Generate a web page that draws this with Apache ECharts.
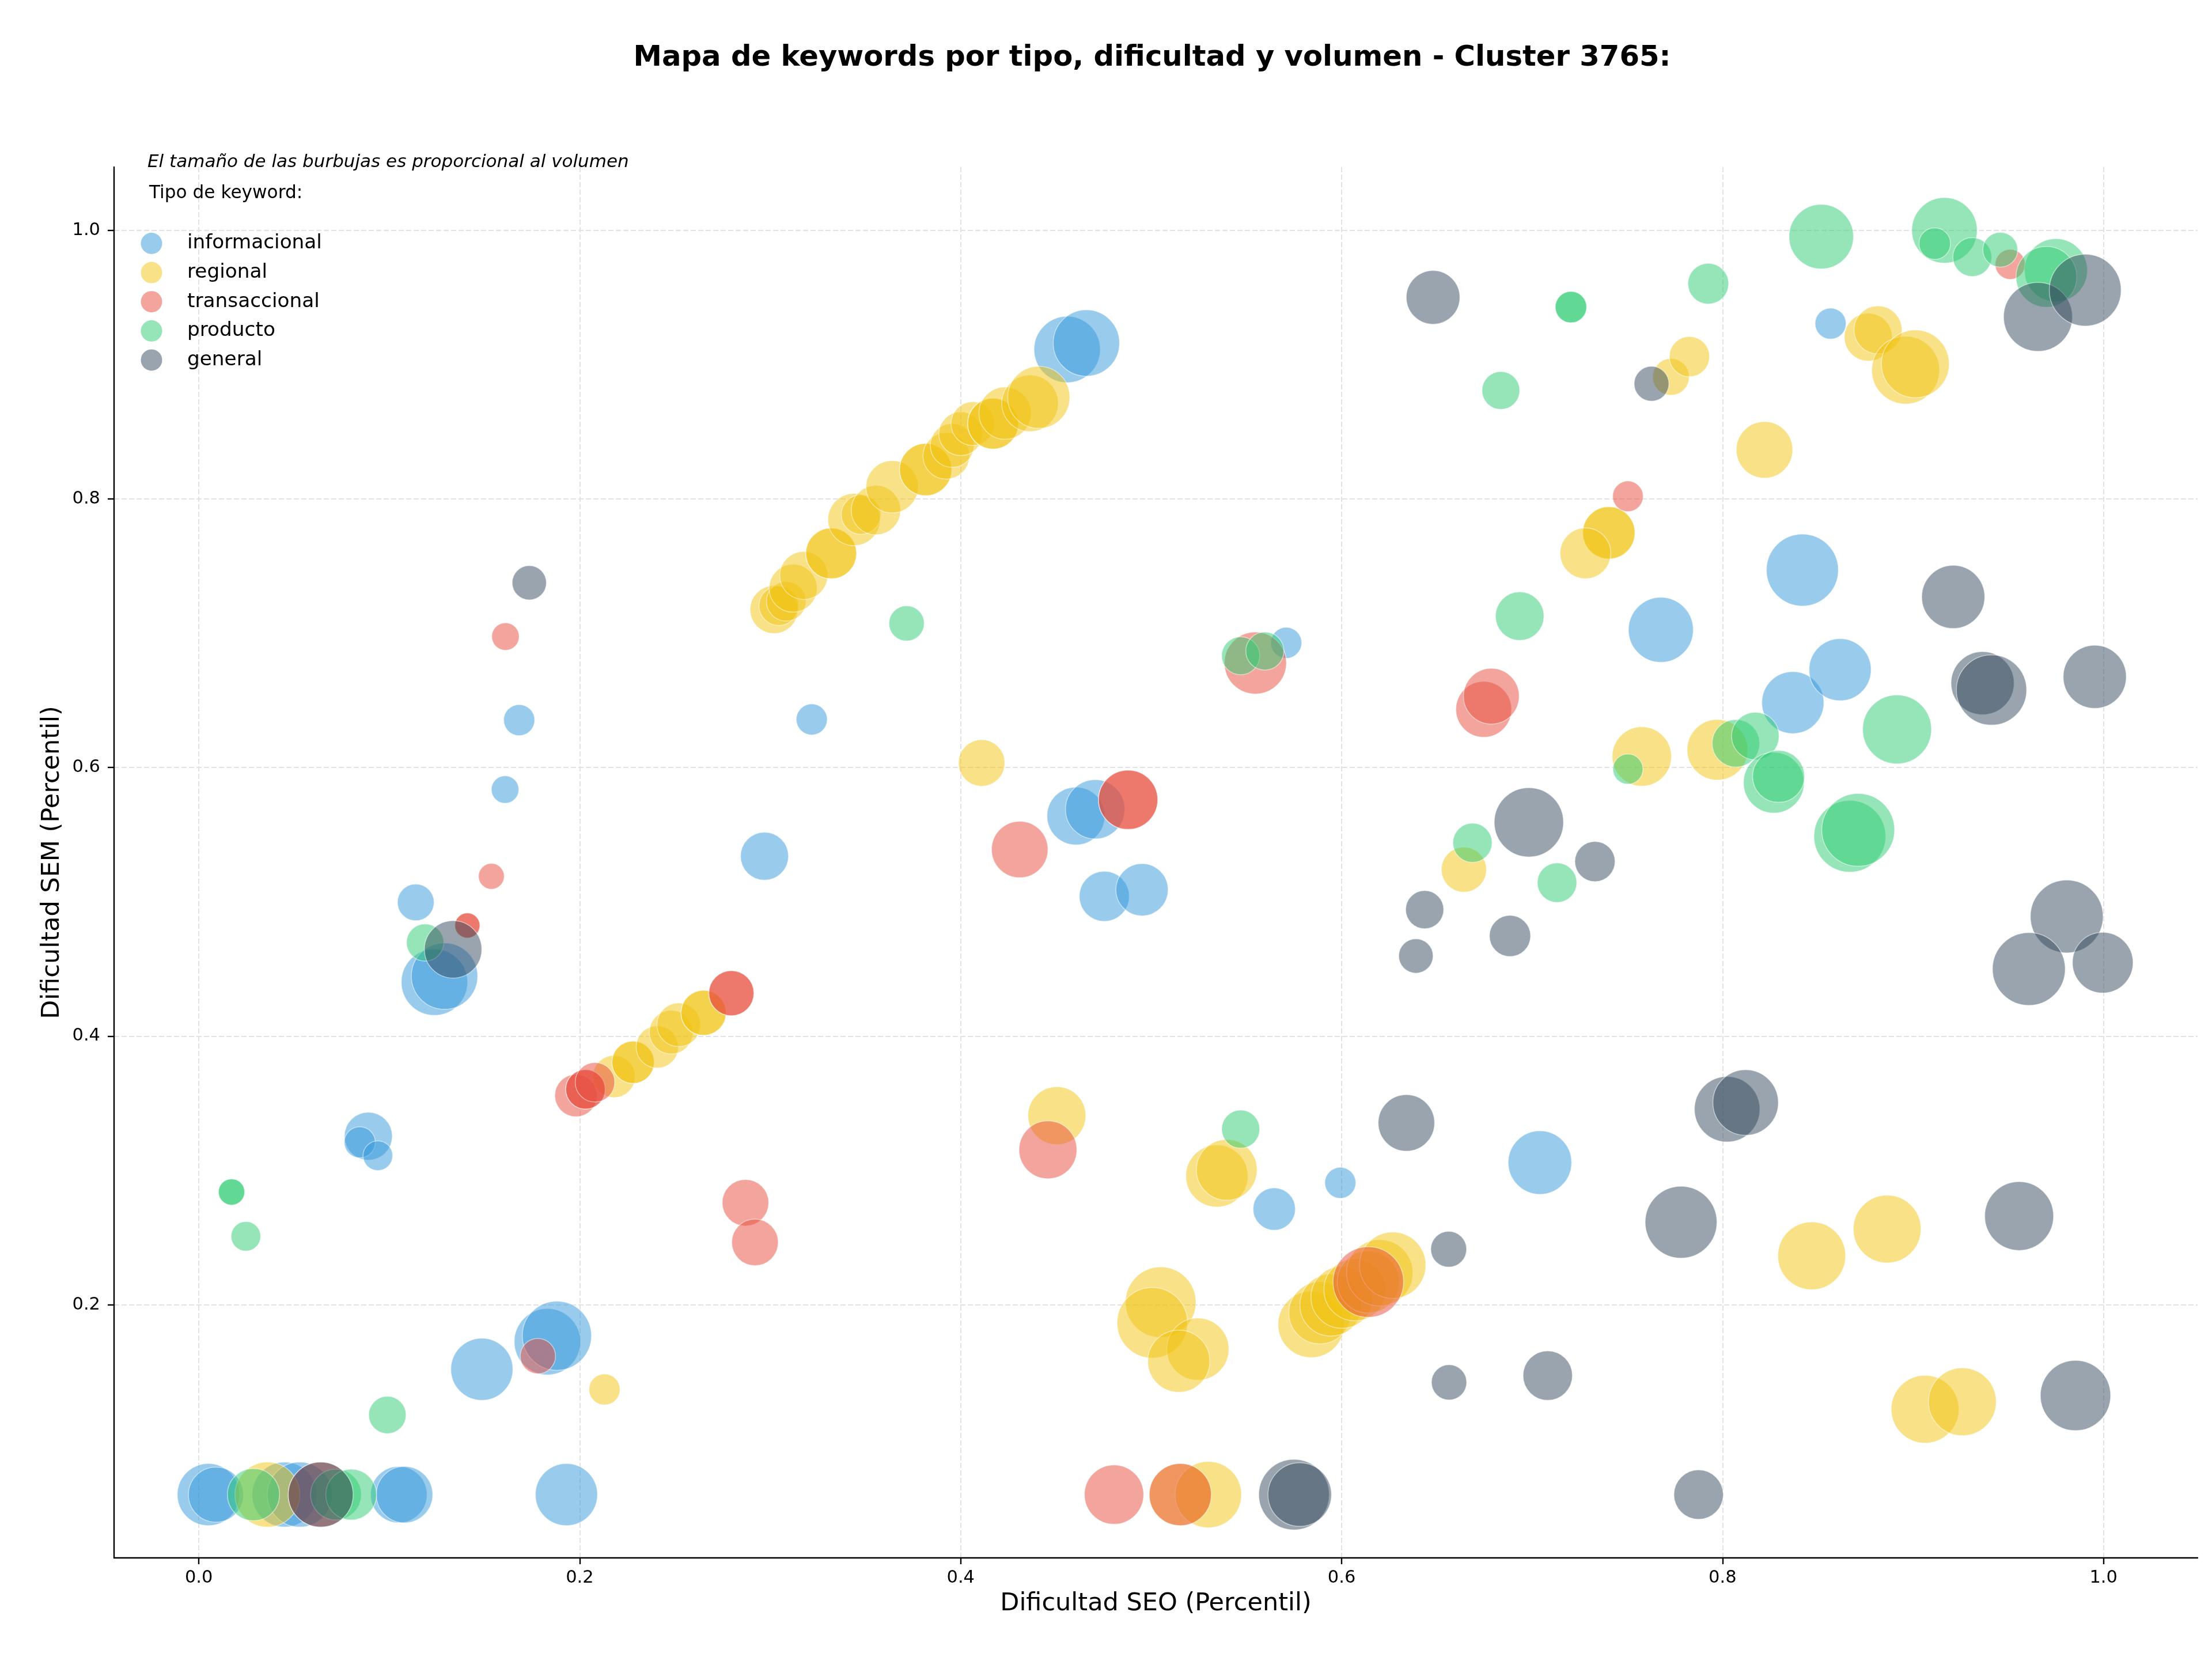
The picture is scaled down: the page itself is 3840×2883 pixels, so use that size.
<!DOCTYPE html>
<html>
<head>
<meta charset="utf-8">
<script src="https://cdn.jsdelivr.net/npm/echarts@6/dist/echarts.min.js"></script>
<style>
  html, body { margin: 0; padding: 0; background: #fff; }
  #chart { width: 3840px; height: 2883px; }
</style>
</head>
<body>
<div id="chart"></div>
<script>
// [dificultad SEO, dificultad SEM, volumen]
const informacional = [
  [0.005, 0.0587, 1936], [0.009, 0.0587, 1521], [0.045, 0.0587, 2116], [0.053, 0.0587, 2116],
  [0.105, 0.0587, 1600], [0.108, 0.0587, 1600], [0.193, 0.0587, 1936],
  [0.089, 0.3255, 1156], [0.0845, 0.321, 484], [0.094, 0.311, 441], [0.1486, 0.152, 1936],
  [0.183, 0.1725, 2209], [0.188, 0.177, 2401], [0.297, 0.534, 1156], [0.1682, 0.6353, 484],
  [0.1608, 0.5836, 380], [0.1139, 0.4996, 676], [0.1237, 0.4402, 2209], [0.129, 0.4447, 2209],
  [0.4559, 0.9112, 2209], [0.466, 0.916, 2209], [0.3218, 0.6358, 484], [0.4605, 0.5639, 1681],
  [0.4706, 0.5689, 1764], [0.4754, 0.5041, 1260], [0.4952, 0.509, 1369], [0.5709, 0.6928, 484],
  [0.5646, 0.2713, 900], [0.5993, 0.2908, 484], [0.8567, 0.9305, 484], [0.7676, 0.7025, 2116],
  [0.8419, 0.747, 2601], [0.8369, 0.6483, 1936], [0.8617, 0.6728, 1936], [0.7041, 0.3059, 2025]
];
const regional = [
  [0.036, 0.0587, 2116], [0.5153, 0.0587, 1936], [0.53, 0.0587, 2209], [0.213, 0.137, 484],
  [0.218, 0.370, 900], [0.228, 0.3806, 900], [0.228, 0.3806, 900], [0.2407, 0.392, 900],
  [0.248, 0.403, 961], [0.252, 0.4085, 961], [0.265, 0.4174, 1024], [0.265, 0.4174, 1024],
  [0.302, 0.7176, 1156], [0.3045, 0.7205, 784], [0.3084, 0.7237, 784], [0.312, 0.7335, 1156],
  [0.3176, 0.743, 1156], [0.332, 0.7594, 1296], [0.332, 0.7594, 1296], [0.344, 0.7846, 1369],
  [0.3477, 0.7883, 784], [0.3555, 0.7916, 1225], [0.364, 0.809, 1369], [0.3816, 0.8218, 1369],
  [0.3816, 0.8218, 1369], [0.3924, 0.832, 1089], [0.3955, 0.8398, 961], [0.4, 0.8485, 961],
  [0.4064, 0.856, 961], [0.417, 0.856, 1296], [0.417, 0.856, 1296], [0.4233, 0.8638, 1369],
  [0.4364, 0.8711, 1600], [0.441, 0.8756, 1936], [0.411, 0.6034, 1089], [0.4505, 0.3408, 1681],
  [0.5345, 0.2959, 1936], [0.5397, 0.3005, 1849], [0.505, 0.2019, 2500], [0.5006, 0.1866, 2500],
  [0.5245, 0.167, 1936], [0.5145, 0.158, 1936], [0.584, 0.1854, 2209], [0.5886, 0.194, 1936],
  [0.5944, 0.1998, 1936], [0.6002, 0.2056, 1936], [0.607, 0.2112, 1936], [0.614, 0.217, 1936],
  [0.62, 0.2238, 2209], [0.6268, 0.2295, 2209], [0.6642, 0.524, 1024], [0.7729, 0.8908, 676],
  [0.7826, 0.9059, 812], [0.822, 0.8365, 1600], [0.8765, 0.9204, 1156], [0.8816, 0.9258, 1156],
  [0.8961, 0.8958, 2304], [0.9012, 0.9005, 2304], [0.7403, 0.7747, 1369], [0.7403, 0.7747, 1369],
  [0.728, 0.7595, 1296], [0.7576, 0.6082, 1764], [0.7973, 0.6132, 1849], [0.8468, 0.2365, 2304],
  [0.8864, 0.2564, 2304], [0.9063, 0.1223, 2304], [0.9259, 0.1278, 2304]
];
const transaccional = [
  [0.064, 0.0587, 2116], [0.178, 0.1618, 625], [0.287, 0.276, 1089], [0.292, 0.2465, 1089],
  [0.198, 0.3558, 900], [0.203, 0.3604, 784], [0.203, 0.3604, 784], [0.208, 0.3657, 784],
  [0.2796, 0.432, 1024], [0.2796, 0.432, 1024], [0.161, 0.6975, 380], [0.1536, 0.519, 335],
  [0.141, 0.4824, 317], [0.141, 0.4824, 317], [0.431, 0.539, 1600], [0.4879, 0.576, 1764],
  [0.4879, 0.576, 1764], [0.5547, 0.6778, 1936], [0.4458, 0.3154, 1681], [0.4805, 0.0587, 1764],
  [0.5153, 0.0587, 1936], [0.614, 0.217, 2500], [0.7503, 0.8019, 471], [0.951, 0.9746, 454],
  [0.6746, 0.6433, 1560], [0.6786, 0.6531, 1560]
];
const producto = [
  [0.0287, 0.0587, 1369], [0.072, 0.0587, 1296], [0.08, 0.0587, 1296], [0.0172, 0.284, 346],
  [0.0172, 0.284, 346], [0.0247, 0.251, 441], [0.099, 0.118, 702], [0.1188, 0.4697, 697],
  [0.3716, 0.7073, 625], [0.547, 0.6832, 729], [0.5597, 0.6867, 729], [0.547, 0.3308, 729],
  [0.6687, 0.544, 773], [0.7204, 0.9428, 497], [0.7204, 0.9428, 497], [0.6836, 0.8807, 718],
  [0.7925, 0.9602, 835], [0.8518, 0.9952, 2088], [0.9165, 0.9999, 2153], [0.9114, 0.990, 497],
  [0.9311, 0.98, 756], [0.9458, 0.9855, 610], [0.975, 0.9702, 1998], [0.97, 0.9653, 1849],
  [0.6935, 0.7127, 1183], [0.7503, 0.5988, 454], [0.807, 0.618, 1136], [0.8172, 0.6234, 1136],
  [0.8269, 0.5887, 1849], [0.8294, 0.5934, 1354], [0.8916, 0.6284, 2381], [0.8668, 0.5488, 2591],
  [0.8712, 0.5536, 2663], [0.7131, 0.5143, 784]
];
const general = [
  [0.064, 0.0587, 2116], [0.1735, 0.7375, 590], [0.1335, 0.4646, 1656], [0.575, 0.0587, 2500],
  [0.578, 0.0587, 2025], [0.648, 0.950, 1444], [0.7627, 0.8857, 610], [0.9656, 0.9355, 2381],
  [0.9904, 0.9554, 2591], [0.9211, 0.727, 1998], [0.9365, 0.6628, 1998], [0.9412, 0.6577, 2480],
  [0.9954, 0.6675, 1998], [0.6983, 0.5592, 2411], [0.733, 0.530, 812], [0.6436, 0.4942, 729],
  [0.639, 0.4597, 595], [0.6884, 0.4746, 853], [0.634, 0.3354, 1600], [0.6562, 0.2414, 645],
  [0.6564, 0.1423, 625], [0.7082, 0.1473, 1225], [0.7782, 0.2615, 2591], [0.8024, 0.3456, 2153],
  [0.8121, 0.3506, 2153], [0.9557, 0.2661, 2381], [0.9807, 0.4891, 2663], [0.9608, 0.45, 2663],
  [0.9996, 0.4547, 1849], [0.9853, 0.1325, 2480], [0.7874, 0.0587, 1225]
];

const tipos = ['informacional', 'regional', 'transaccional', 'producto', 'general'];
const colores = ['#3498db', '#f1c40f', '#e74c3c', '#2ecc71', '#34495e'];
const ticksX = [0, 0.2, 0.4, 0.6, 0.8, 1.0];
const ticksY = [0.2, 0.4, 0.6, 0.8, 1.0];
const datos = [informacional, regional, transaccional, producto, general];

const font = 'DejaVu Sans';
const chart = echarts.init(document.getElementById('chart'));

function axisCommon(ticks) {
  return {
    type: 'value',
    axisLine: { show: true, onZero: false, lineStyle: { color: '#000', width: 2.4 } },
    axisTick: { show: true, length: 11, customValues: ticks, lineStyle: { color: '#000', width: 2.4 } },
    axisLabel: {
      customValues: ticks, color: '#000', fontSize: 30.5, fontFamily: font,
      formatter: v => v.toFixed(1)
    },
    splitLine: { show: true, customValues: ticks, lineStyle: { color: '#e2e2e2', width: 2, type: [9, 4] } },
    nameLocation: 'middle',
    nameTextStyle: { color: '#000', fontSize: 43, fontFamily: font }
  };
}

const xAxis = axisCommon(ticksX);
xAxis.min = -0.0445; xAxis.max = 1.0494;
xAxis.name = 'Dificultad SEO (Percentil)';
xAxis.nameGap = 58;
xAxis.axisLabel.margin = 20;

const yAxis = axisCommon(ticksY);
yAxis.min = 0.0116; yAxis.max = 1.047;
yAxis.name = 'Dificultad SEM (Percentil)';
yAxis.nameGap = 86;
yAxis.axisLabel.margin = 24;

chart.setOption({
  animation: false,
  textStyle: { fontFamily: font },
  title: [
    {
      text: 'Mapa de keywords por tipo, dificultad y volumen - Cluster 3765:',
      left: 2000, top: 76, textAlign: 'center', padding: 0,
      textStyle: { fontSize: 49.7, fontWeight: 'bold', color: '#000', lineHeight: 50, fontFamily: font }
    },
    {
      text: 'El tamaño de las burbujas es proporcional al volumen',
      left: 256, top: 266, padding: 0,
      textStyle: { fontSize: 31, fontWeight: 'normal', fontStyle: 'italic', color: '#000', lineHeight: 31, fontFamily: font }
    },
    {
      text: 'Tipo de keyword:',
      left: 259, top: 320, padding: 0,
      textStyle: { fontSize: 31.2, fontWeight: 'normal', color: '#000', lineHeight: 31, fontFamily: font }
    }
  ],
  legend: {
    data: tipos,
    orient: 'vertical',
    left: 244.5, top: 404,
    padding: 0,
    icon: 'circle',
    itemWidth: 37, itemHeight: 37, itemGap: 13.6,
    itemStyle: { opacity: 0.5, borderWidth: 0 },
    textStyle: { fontSize: 34.3, color: '#000', fontFamily: font, padding: [0, 0, 0, 38.5] }
  },
  grid: { left: 198, right: 25, top: 290, bottom: 179, containLabel: false },
  xAxis: xAxis,
  yAxis: yAxis,
  series: tipos.map((t, i) => ({
    name: t,
    type: 'scatter',
    data: datos[i],
    symbolSize: v => Math.sqrt(v[2]) * 2.449,
    itemStyle: { color: colores[i], opacity: 0.5, borderColor: '#ffffff', borderWidth: 1.5 },
    emphasis: { disabled: true }
  }))
});
</script>
</body>
</html>
